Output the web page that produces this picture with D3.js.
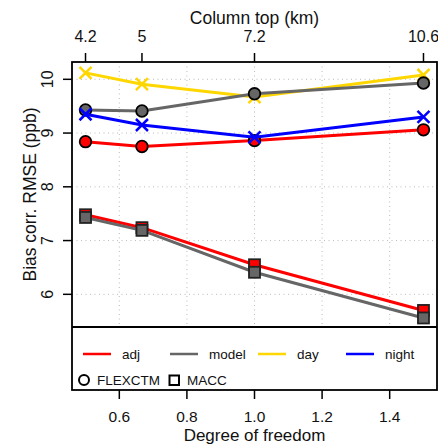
<!DOCTYPE html>
<html><head><meta charset="utf-8">
<script src="https://cdn.jsdelivr.net/npm/d3@7"></script>
<style>
body{margin:0;background:#fff;}
svg{display:block;font-family:"Liberation Sans",Arial,sans-serif;}
</style></head>
<body>
<svg id="c" width="438" height="444"></svg>
<script>
// ---- data ----
const dof = [0.5, 0.667, 1.0, 1.5];
const columnTop = ["4.2", "5", "7.2", "10.6"];
const flexAdj   = [8.84, 8.75, 8.86, 9.06];
const flexModel = [9.43, 9.41, 9.73, 9.93];
const dayVals   = [10.12, 9.91, 9.67, 10.08];
const nightVals = [9.35, 9.15, 8.92, 9.30];
const maccAdj   = [7.48, 7.24, 6.55, 5.70];
const maccModel = [7.43, 7.19, 6.41, 5.56];
const xTicks = [0.6, 0.8, 1.0, 1.2, 1.4];
const yTicks = [6, 7, 8, 9, 10];
const legendNames = ["adj", "model", "day", "night"];
const legendColors = ["#ff0000", "#666666", "#ffd700", "#0000ff"];
const typeNames = ["FLEXCTM", "MACC"];

// ---- layout ----
const L = 72, R = 437, T = 62, B = 327, LB = 390;
const svg = d3.select("#c");
const x = d3.scaleLinear().domain([0.46, 1.54]).range([L, R]);
const y = d3.scaleLinear().domain([5.392, 10.322]).range([B, T]);

// grid
const g = svg.append("g");
g.selectAll("line.vg").data(xTicks).join("line")
  .attr("x1", d => x(d)).attr("x2", d => x(d)).attr("y1", T).attr("y2", B)
  .attr("stroke", "#bbb").attr("stroke-width", 1).attr("stroke-dasharray", "1,3.5");
g.selectAll("line.hg").data(yTicks).join("line")
  .attr("y1", d => y(d)).attr("y2", d => y(d)).attr("x1", L).attr("x2", R)
  .attr("stroke", "#bbb").attr("stroke-width", 1).attr("stroke-dasharray", "1,3.5");

const line = d3.line().x((d, i) => x(dof[i])).y(d => y(d));

function series(vals, color, marker) {
  svg.append("path").datum(vals).attr("d", line)
    .attr("fill", "none").attr("stroke", color).attr("stroke-width", 3);
  const m = svg.append("g");
  vals.forEach((v, i) => {
    const cx = x(dof[i]), cy = y(v);
    if (marker === "circle") {
      m.append("circle").attr("cx", cx).attr("cy", cy).attr("r", 5.8)
        .attr("fill", color).attr("stroke", "#000").attr("stroke-width", 1.8);
    } else if (marker === "square") {
      m.append("rect").attr("x", cx - 5.5).attr("y", cy - 5.5).attr("width", 11).attr("height", 11)
        .attr("fill", color).attr("stroke", "#222").attr("stroke-width", 1.8);
    } else {
      const s = 6;
      m.append("path").attr("d", `M${cx-s},${cy-s}L${cx+s},${cy+s}M${cx-s},${cy+s}L${cx+s},${cy-s}`)
        .attr("stroke", color).attr("stroke-width", 2.5).attr("fill", "none");
    }
  });
}
series(dayVals, legendColors[2], "x");
series(flexAdj, legendColors[0], "circle");
series(flexModel, legendColors[1], "circle");
series(nightVals, legendColors[3], "x");
series(maccAdj, legendColors[0], "square");
series(maccModel, legendColors[1], "square");

// box incl legend area
svg.append("rect").attr("x", L).attr("y", T).attr("width", R - L).attr("height", LB - T)
  .attr("fill", "none").attr("stroke", "#000").attr("stroke-width", 1.8);
svg.append("line").attr("x1", L).attr("x2", R).attr("y1", B).attr("y2", B)
  .attr("stroke", "#000").attr("stroke-width", 1.8);

// axes
const tickLen = 9;
// bottom
svg.selectAll("line.bt").data(xTicks).join("line")
  .attr("x1", d => x(d)).attr("x2", d => x(d)).attr("y1", LB).attr("y2", LB + tickLen)
  .attr("stroke", "#000").attr("stroke-width", 1.5);
svg.selectAll("text.bt").data(xTicks).join("text")
  .attr("x", d => x(d)).attr("y", 422).attr("text-anchor", "middle")
  .attr("font-size", 15.5).attr("fill", "#111").text(d => d.toFixed(1));
svg.append("text").attr("x", (L + R) / 2).attr("y", 441).attr("text-anchor", "middle")
  .attr("font-size", 17).attr("fill", "#111").text("Degree of freedom");
// top
svg.selectAll("line.tt").data(dof).join("line")
  .attr("x1", d => x(d)).attr("x2", d => x(d)).attr("y1", T).attr("y2", T - tickLen)
  .attr("stroke", "#000").attr("stroke-width", 1.5);
svg.selectAll("text.tt").data(dof).join("text")
  .attr("x", d => x(d)).attr("y", 42).attr("text-anchor", "middle")
  .attr("font-size", 16).attr("fill", "#111").text((d, i) => columnTop[i]);
svg.append("text").attr("x", (L + R) / 2).attr("y", 24).attr("text-anchor", "middle")
  .attr("font-size", 17.5).attr("fill", "#111").text("Column top (km)");
// left
svg.selectAll("line.lt").data(yTicks).join("line")
  .attr("x1", L).attr("x2", L - tickLen).attr("y1", d => y(d)).attr("y2", d => y(d))
  .attr("stroke", "#000").attr("stroke-width", 1.5);
svg.selectAll("text.lt").data(yTicks).join("text")
  .attr("transform", d => `translate(53,${y(d)}) rotate(-90)`).attr("text-anchor", "middle")
  .attr("font-size", 16).attr("fill", "#111").text(d => d);
svg.append("text").attr("transform", `translate(36,${(T + B) / 2}) rotate(-90)`)
  .attr("text-anchor", "middle").attr("font-size", 17.5).attr("fill", "#111")
  .text("Bias corr. RMSE (ppb)");

// legend
const lineX = [83, 170, 258, 346];
legendNames.forEach((n, i) => {
  svg.append("line").attr("x1", lineX[i]).attr("x2", lineX[i] + 28).attr("y1", 354).attr("y2", 354)
    .attr("stroke", legendColors[i]).attr("stroke-width", 2.5);
  svg.append("text").attr("x", lineX[i] + 39).attr("y", 359).attr("font-size", 13.5)
    .attr("fill", "#111").text(n);
});
svg.append("circle").attr("cx", 84).attr("cy", 380).attr("r", 5).attr("fill", "none")
  .attr("stroke", "#000").attr("stroke-width", 2);
svg.append("text").attr("x", 97).attr("y", 385).attr("font-size", 13.5).attr("fill", "#111").text(typeNames[0]);
svg.append("rect").attr("x", 169.5).attr("y", 375.5).attr("width", 9.5).attr("height", 9.5).attr("fill", "none")
  .attr("stroke", "#000").attr("stroke-width", 2);
svg.append("text").attr("x", 187).attr("y", 385).attr("font-size", 13.5).attr("fill", "#111").text(typeNames[1]);
</script>
</body></html>
